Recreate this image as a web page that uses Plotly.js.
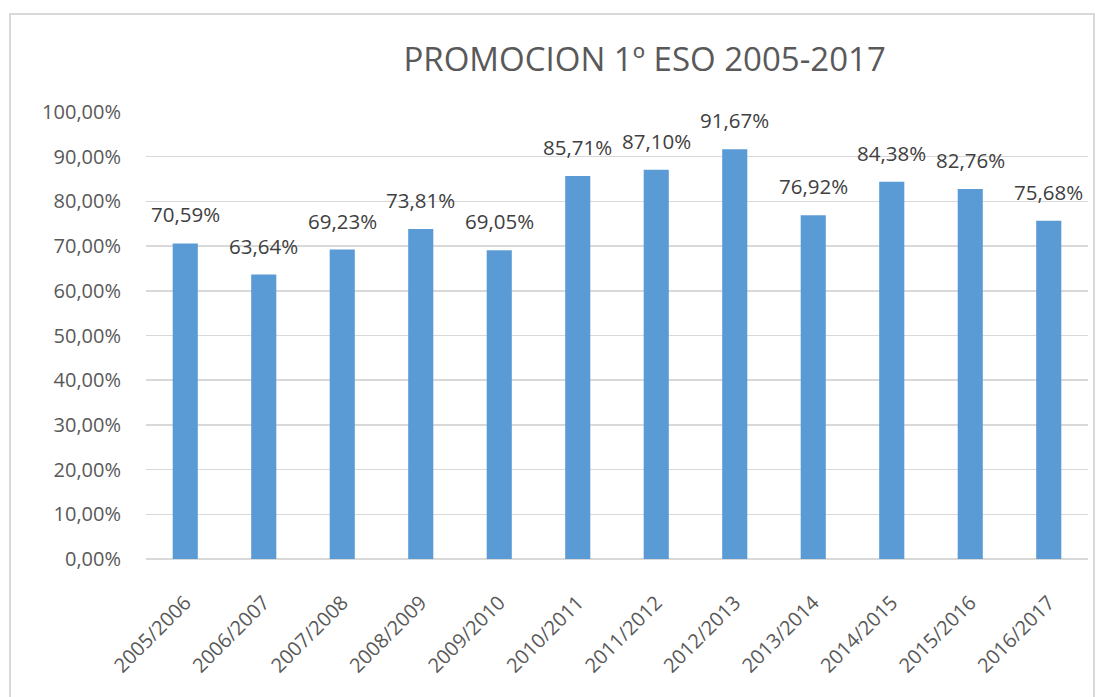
<!DOCTYPE html>
<html><head><meta charset="utf-8">
<script src="https://cdn.plot.ly/plotly-3.0.1.min.js"></script>
<style>
html,body{margin:0;padding:0;background:#fff;}
#wrap{position:relative;width:1102px;height:697px;}
#chart{position:absolute;left:0;top:0;width:1102px;height:697px;}
#frame{position:absolute;left:9px;top:13px;width:1086px;height:700px;border:2px solid #d9d9d9;box-sizing:border-box;pointer-events:none;}
</style></head>
<body>
<div id="wrap"><div id="chart"></div><div id="frame"></div></div>
<script>
const categories = ["2005/2006","2006/2007","2007/2008","2008/2009","2009/2010","2010/2011","2011/2012","2012/2013","2013/2014","2014/2015","2015/2016","2016/2017"];
const promocion = [0.7059,0.6364,0.6923,0.7381,0.6905,0.8571,0.8710,0.9167,0.7692,0.8438,0.8276,0.7568];
const yTicks = [0,0.1,0.2,0.3,0.4,0.5,0.6,0.7,0.8,0.9,1.0];

const font = "Open Sans, Liberation Sans, sans-serif";
const fmt = v => (v*100).toFixed(2).replace('.', ',') + '%';
const annotations = categories.map((c, i) => ({
  x: c, y: promocion[i], xref: 'x', yref: 'y',
  text: fmt(promocion[i]), showarrow: false,
  yanchor: 'bottom', yshift: 13,
  font: {family: font, size: 20.5, color: '#404040'}
}));

Plotly.newPlot('chart', [{
  type: 'bar',
  x: categories,
  y: promocion,
  marker: {color: '#5b9bd5'},
  hoverinfo: 'none'
}], {
  width: 1102, height: 697,
  separators: ',.',
  margin: {l: 146, r: 14, t: 112, b: 138},
  paper_bgcolor: '#ffffff', plot_bgcolor: '#ffffff',
  bargap: 0.68,
  showlegend: false,
  annotations: annotations,
  title: {text: 'PROMOCION 1º ESO 2005-2017', x: 0.585, xanchor: 'center', y: 0.915, yanchor: 'middle',
          font: {family: font, size: 33, color: '#595959'}},
  xaxis: {type: 'category', tickangle: -45, tickfont: {family: font, size: 20, color: '#595959'},
          showgrid: false, showline: false, ticks: '', ticklen: 0, ticklabelstandoff: 27},
  yaxis: {range: [0, 1.0], tickvals: yTicks, tickformat: '.2%',
          tickfont: {family: font, size: 20, color: '#595959'},
          showgrid: true, gridcolor: '#d9d9d9', gridwidth: 1.5, zeroline: true, zerolinecolor: '#d9d9d9', zerolinewidth: 1.5,
          showline: false, ticks: '', ticklabelstandoff: 24}
}, {displayModeBar: false, staticPlot: true});
</script>
</body></html>
